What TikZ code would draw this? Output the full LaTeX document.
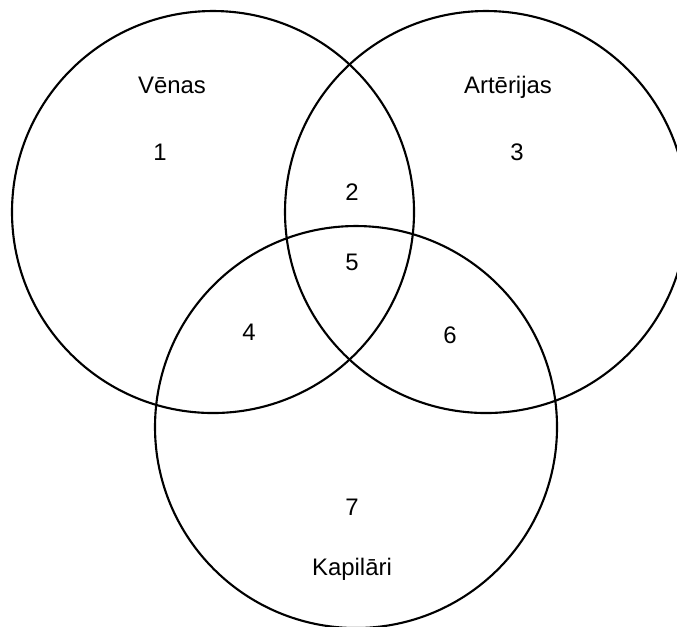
\documentclass[tikz,border=0pt]{standalone}
\usepackage{fontspec}
\setmainfont{Liberation Sans}
\tikzset{
  set/.style={line width=0.6pt},
  lbl/.style={font=\fontsize{6.8}{8}\selectfont,anchor=base,inner sep=0pt},
}
\begin{document}
\begin{tikzpicture}[x=0.01cm,y=-0.01cm]
  \useasboundingbox (0,0) rectangle (677,626);
  \clip (0,0) rectangle (677,626);
  % centres of the three sets
  \coordinate (cv) at (213,212);
  \coordinate (ca) at (486,212);
  \coordinate (ck) at (356,427);
  \draw[set] (cv) circle (201);
  \draw[set] (ca) circle (201);
  \draw[set] (ck) circle (201);
  % labels
  \node[lbl] (venas) at (172,93) {Vēnas};
  \node[lbl] (arterijas) at (508,93) {Artērijas};
  \node[lbl] (kapilari) at (352,575) {Kapilāri};
  \node[lbl] (n1) at (160,160) {1};
  \node[lbl] (n2) at (352,200) {2};
  \node[lbl] (n3) at (517,160) {3};
  \node[lbl] (n4) at (249,340) {4};
  \node[lbl] (n5) at (352,270) {5};
  \node[lbl] (n6) at (450,343) {6};
  \node[lbl] (n7) at (352,515) {7};
\end{tikzpicture}
\end{document}
